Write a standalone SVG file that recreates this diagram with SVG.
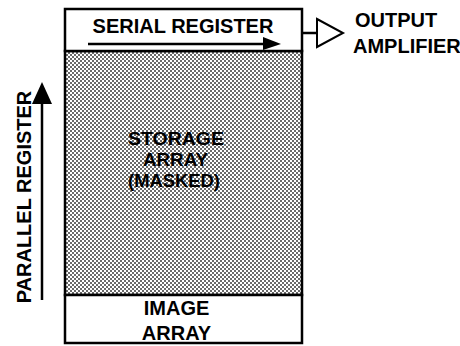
<svg xmlns="http://www.w3.org/2000/svg" width="460" height="346" viewBox="0 0 460 346">
<style>
.lbl{font-family:"Liberation Sans",Arial,sans-serif;font-weight:bold;font-size:20px;fill:#000}
.sm{font-size:18px}
.box{fill:#fff;stroke:#000;stroke-width:2.5}
.ln{stroke:#000;stroke-width:2.5;fill:none}
</style>
<defs>
<pattern id="stip" patternUnits="userSpaceOnUse" width="4" height="4">
<rect width="4" height="4" fill="#fff"/>
<rect x="0" y="0" width="2" height="2" fill="#6a6a6a"/>
<rect x="2" y="2" width="2" height="2" fill="#6a6a6a"/>
</pattern>
</defs>
<rect width="460" height="346" fill="#fff"/>
<g id="storage-array">
<rect x="65" y="51" width="237" height="244" fill="url(#stip)" stroke="#000" stroke-width="2.5"/>
<text class="lbl sm" x="128" y="145" textLength="96" lengthAdjust="spacingAndGlyphs">STORAGE</text>
<text class="lbl sm" x="143" y="166" textLength="65" lengthAdjust="spacingAndGlyphs">ARRAY</text>
<text class="lbl sm" x="128" y="187" textLength="92" lengthAdjust="spacingAndGlyphs">(MASKED)</text>
</g>
<g id="serial-register">
<rect class="box" x="65" y="9" width="237" height="42"/>
<text class="lbl" x="183" y="33" text-anchor="middle">SERIAL REGISTER</text>
</g>
<g id="image-array">
<rect class="box" x="65" y="295" width="237" height="48"/>
<text class="lbl" x="176.5" y="315" text-anchor="middle">IMAGE</text>
<text class="lbl" x="176.5" y="340" text-anchor="middle">ARRAY</text>
</g>
<g id="output-amplifier">
<polygon points="317,19 343,33 317,47" fill="#fff" stroke="#000" stroke-width="2"/>
<text class="lbl" x="355" y="27">OUTPUT</text>
<text class="lbl" x="353" y="53">AMPLIFIER</text>
</g>
<g id="parallel-register">
<text class="lbl" transform="translate(31,197) rotate(-90)" text-anchor="middle">PARALLEL REGISTER</text>
</g>
<g id="connectors">
<line class="ln" x1="88" y1="44" x2="266" y2="44"/>
<polygon points="263,37 281,44 263,50"/>
<line class="ln" x1="302" y1="33" x2="317" y2="33"/>
<line class="ln" x1="42" y1="300" x2="42" y2="100"/>
<polygon points="42,82 52,104 32,104"/>
</g>
</svg>
